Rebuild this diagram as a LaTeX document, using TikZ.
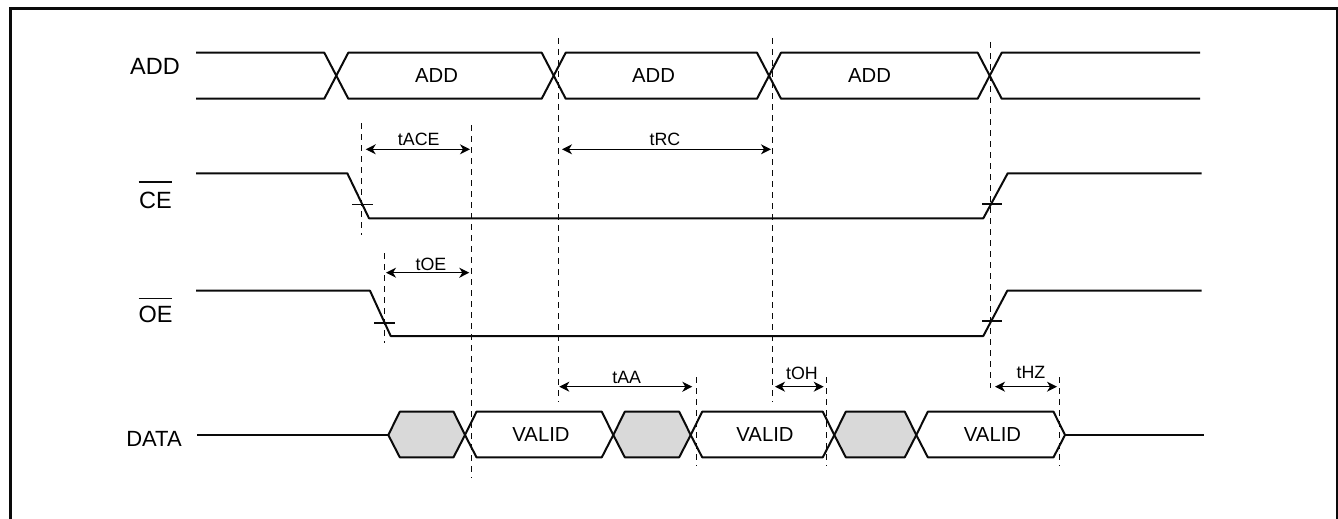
\documentclass[tikz,border=0pt]{standalone}
\usepackage{fontspec}
\setmainfont{Liberation Sans}
\usetikzlibrary{arrows.meta, calc, positioning}
\definecolor{wire}{HTML}{0A0A0A}
\definecolor{hatch}{HTML}{D9D9D9}
\tikzset{
  sigline/.style  = {draw=wire, line width=2pt, line join=round},
  ticksym/.style  = {draw=wire, line width=1.2pt},
  guide/.style    = {draw=wire, line width=1.3pt, dash pattern=on 6pt off 5pt},
  span/.style     = {draw=black, line width=1.2pt, {Stealth[length=10pt, width=10pt, inset=3pt]}-{Stealth[length=10pt, width=10pt, inset=3pt]}},
  siglab/.style   = {font=\fontsize{23.5}{26}\selectfont, inner sep=0pt},
  buslab/.style   = {font=\fontsize{20.3}{24}\selectfont, inner sep=0pt},
  spanlab/.style  = {font=\fontsize{17.8}{20}\selectfont, inner sep=0pt},
}
\newcommand{\datahex}[3]{%
  \draw[sigline, fill=#3] (#1,435) -- ({#1+11.5},411.7) -- ({#2-11.5},411.7) -- (#2,435)
    -- ({#2-11.5},457.3) -- ({#1+11.5},457.3) -- cycle;}
\begin{document}
\begin{tikzpicture}[x=1pt, y=-1pt]
  \useasboundingbox (0,0) rectangle (1338,519);
  % frame
  \draw[draw=wire, line width=2.5pt] (10.7,519) -- (10.7,8.6) -- (1337.2,8.6) -- (1337.2,519);
  % ADD
  \draw[sigline] (196,52.7) -- (324.3,52.7) -- (348.3,98.7) -- (541.7,98.7) -- (565.7,52.7) -- (757,52.7)
    -- (781,98.7) -- (977.7,98.7) -- (1001.7,52.7) -- (1200,52.7);
  \draw[sigline] (196,98.7) -- (324.3,98.7) -- (348.3,52.7) -- (541.7,52.7) -- (565.7,98.7) -- (757,98.7)
    -- (781,52.7) -- (977.7,52.7) -- (1001.7,98.7) -- (1200,98.7);
  % CE
  \draw[sigline] (196,173.3) -- (347.3,173.3) -- (369,218.3) -- (983.3,218.3) -- (1007.7,173.3) -- (1201.7,173.3);
  \draw[ticksym] (352.3,204.7) -- (372.7,204.7);
  \draw[ticksym] (982.3,204) -- (1002.3,204);
  % OE
  \draw[sigline] (196,290.7) -- (370,290.7) -- (390.7,336) -- (983.3,336) -- (1007.3,290.7) -- (1201.7,290.7);
  \draw[ticksym] (374.3,323) -- (394.7,323);
  \draw[ticksym] (982.3,321) -- (1002.3,321);
  % DATA
  \draw[sigline] (197,435) -- (388.3,435);
  \draw[sigline] (1065,435) -- (1204,435);
  \datahex{388.3}{465}{hatch}
  \datahex{465}{613.3}{white}
  \datahex{613.3}{690.7}{hatch}
  \datahex{690.7}{834.3}{white}
  \datahex{834.3}{916.3}{hatch}
  \datahex{916.3}{1065}{white}
  % guides
  \draw[guide] (361.3,123) -- (361.3,235);
  \draw[guide] (471.5,125) -- (471.5,478);
  \draw[guide] (384.3,253) -- (384.3,343);
  \draw[guide] (558.3,38) -- (558.3,402);
  \draw[guide] (772.3,38) -- (772.3,402);
  \draw[guide] (990.3,42) -- (990.3,388);
  \draw[guide] (696.5,377) -- (696.5,466);
  \draw[guide] (826.5,377) -- (826.5,466);
  \draw[guide] (1059.5,377) -- (1059.5,466);
  % spans
  \draw[span] (365.7,149.3) -- (470,149.3);
  \draw[span] (562,149.3) -- (771,149.3);
  \draw[span] (386,272.7) -- (469.3,272.7);
  \draw[span] (559.3,386.7) -- (692.3,386.7);
  \draw[span] (775,386.7) -- (823.7,386.7);
  \draw[span] (995,386.7) -- (1057,386.7);
  % labels
  \node[siglab] (lbAdd) at (155,66.7) {ADD};
  \node[siglab] (lbCe) at (155.5,200) {CE};
  \node[siglab] (lbOe) at (155.5,314) {OE};
  \node[siglab, font=\fontsize{22}{26}\selectfont] (lbData) at (154,439) {DATA};
  \draw[ticksym] (138.7,182) -- (172.3,182);
  \draw[ticksym] (138.7,298.5) -- (172.3,298.5);
  \node[buslab] (busA) at (436.5,76) {ADD};
  \node[buslab] (busB) at (653.5,76) {ADD};
  \node[buslab] (busC) at (869.5,76) {ADD};
  \node[buslab] (valA) at (541,435) {VALID};
  \node[buslab] (valB) at (765,435) {VALID};
  \node[buslab] (valC) at (992.5,435) {VALID};
  \node[spanlab] (lbAce) at (418.7,139) {tACE};
  \node[spanlab] (lbRc) at (665,139) {tRC};
  \node[spanlab] (lbOex) at (431,264) {tOE};
  \node[spanlab] (lbAa) at (626.7,377) {tAA};
  \node[spanlab] (lbOh) at (802,373) {tOH};
  \node[spanlab] (lbHz) at (1031,372) {tHZ};
\end{tikzpicture}
\end{document}
